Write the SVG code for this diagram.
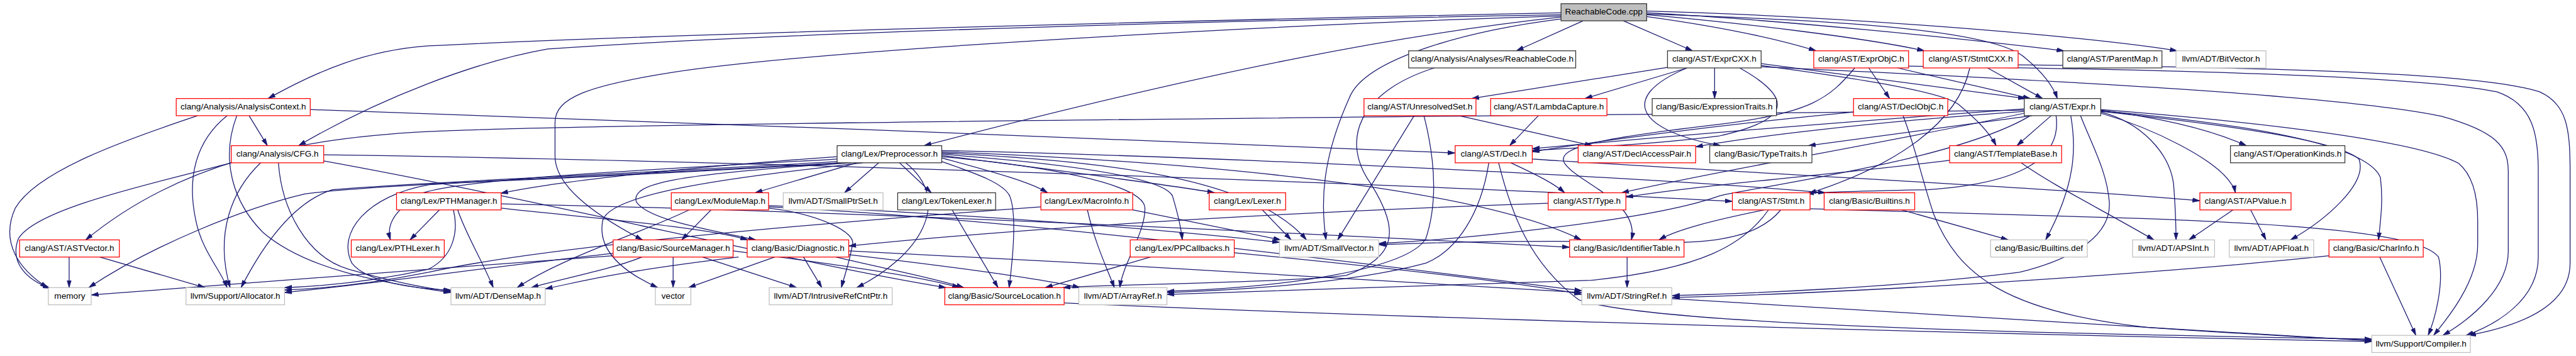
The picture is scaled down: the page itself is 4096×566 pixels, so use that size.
<svg xmlns="http://www.w3.org/2000/svg" width="4096" height="566" viewBox="0 0 4096 566">
<style>
rect.nb{fill:#fff;stroke-width:1.3}
.r rect{stroke:#ff0000}
.b rect{stroke:#333}
.g rect{stroke:#bfbfbf}
text{font-family:"Liberation Sans",Arial,sans-serif;font-size:14px;fill:#000;text-anchor:middle}
#edges path{fill:none;stroke:#191970;stroke-width:1.3;marker-end:url(#a)}
</style>
<defs>
<marker id="a" viewBox="0 0 12 8" refX="12" refY="4" markerWidth="12" markerHeight="8" markerUnits="userSpaceOnUse" orient="auto"><path d="M0,0.5 L12,4 L0,7.5 z" fill="#191970" stroke="#191970" stroke-width="0.8"/></marker>
</defs>
<rect width="4096" height="566" fill="#fff"/>
<g transform="scale(0.973)">
<g id="edges">
<path d="M2587,34 L2478,83"/>
<path d="M2653,34 L2766,83"/>
<path d="M2691,27 C2800,42 2900,62 2968,83"/>
<path d="M2691,24 C2850,38 3050,62 3145,83"/>
<path d="M2691,21 C2900,32 3200,62 3373,83"/>
<path d="M2691,18 C3000,26 3400,58 3558,83"/>
<path d="M2691,23 C3000,33 3260,48 3310,95 C3340,120 3355,140 3362,161"/>
<path d="M2551,21 C2000,32 1100,55 700,75 C600,82 520,115 438,161"/>
<path d="M2551,24 C2000,34 1300,52 895,80 C780,100 620,160 488,238"/>
<path d="M2551,28 C2300,55 2000,110 1510,238"/>
<path d="M2551,26 C2100,40 1350,80 1100,118 C960,140 907,160 907,200 L907,255 C907,300 960,345 1050,392"/>
<path d="M2551,31 C2400,50 2230,95 2205,160 C2160,260 2158,330 2167,392"/>
<path d="M2344,111 C2220,150 2190,230 2240,300 C2290,380 2280,420 2200,450 C2100,462 1800,465 1737,470"/>
<path d="M2725,110 L2405,161"/>
<path d="M2757,111 L2590,161"/>
<path d="M2802,111 L2802,161"/>
<path d="M2757,111 C2640,160 2680,215 2812,238"/>
<path d="M2843,111 C2930,160 2930,195 2810,222 C2700,236 2600,240 2504,246"/>
<path d="M2878,104 L3310,161"/>
<path d="M2878,107 C3050,130 3170,150 3200,170 C3230,195 3250,215 3262,238"/>
<path d="M2878,109 C3200,125 3800,150 3990,190 C4080,215 4099,240 4099,280 L4099,410 C4099,470 4040,520 3992,548"/>
<path d="M3054,111 L3088,161"/>
<path d="M3101,111 L3318,161"/>
<path d="M3031,111 C2990,160 2960,185 2810,203 C2620,225 2540,240 2557,267 C2580,300 2680,330 2666,392"/>
<path d="M3119,108 C3500,113 3950,123 4080,150 C4140,170 4148,220 4148,280 L4148,420 C4148,490 4080,530 4030,548"/>
<path d="M3248,111 L3338,161"/>
<path d="M3219,111 C3200,200 3100,270 2956,316"/>
<path d="M3298,106 C3700,110 4050,118 4150,150 C4195,170 4200,210 4200,280 L4200,430 C4200,500 4120,532 4034,548"/>
<path d="M407,189 L437,238"/>
<path d="M507,179 C1000,195 1900,230 2378,250"/>
<path d="M323,189 C200,230 60,280 25,340 C0,395 30,440 78,470"/>
<path d="M371,189 C320,230 305,290 320,360 C330,410 360,440 371,470"/>
<path d="M387,189 C360,260 380,330 430,380 C500,440 620,462 737,478"/>
<path d="M529,253 C1200,262 2300,300 2831,329"/>
<path d="M529,263 C900,330 1300,430 1546,470"/>
<path d="M378,266 C250,300 60,340 30,390 C15,430 45,458 82,471"/>
<path d="M426,266 C380,310 350,380 376,470"/>
<path d="M455,266 C460,340 500,420 570,440 C640,460 690,470 737,476"/>
<path d="M1368,256 C1100,275 900,298 818,316"/>
<path d="M1368,260 C1000,280 720,295 680,320 C640,350 632,370 638,392"/>
<path d="M1370,264 C1000,285 650,300 543,310 C480,330 430,400 394,470"/>
<path d="M1372,266 C1000,288 600,302 498,317 C400,340 250,400 145,470"/>
<path d="M1380,266 C1000,290 750,297 700,302 C600,320 550,380 575,430 C600,462 680,472 737,474"/>
<path d="M1436,266 L1380,315"/>
<path d="M1470,266 L1522,315"/>
<path d="M1410,266 C1250,285 1000,310 985,360 C975,410 1020,445 1075,470"/>
<path d="M1400,266 L1234,315"/>
<path d="M1390,266 C1100,285 1030,300 1040,330 C1060,360 1160,375 1235,392"/>
<path d="M1480,266 C1560,330 1500,420 1400,470"/>
<path d="M1539,258 C1600,275 1680,295 1712,315"/>
<path d="M1539,264 C1600,285 1640,300 1650,320 C1660,345 1658,400 1649,470"/>
<path d="M1539,254 C1700,275 1900,300 1985,315"/>
<path d="M1539,256 C1700,270 1870,300 1871,340 C1872,380 1835,430 1830,470"/>
<path d="M1539,252 C1750,268 1900,290 1916,320 C1925,350 1930,370 1932,392"/>
<path d="M1539,250 C1800,262 2050,290 2135,392"/>
<path d="M1539,248 C1900,262 2400,300 2584,392"/>
<path d="M1539,246 C2000,256 2700,290 2983,315"/>
<path d="M718,343 L670,392"/>
<path d="M748,343 C760,380 790,430 806,470"/>
<path d="M741,343 C750,380 740,420 700,440 C600,462 520,468 465,470"/>
<path d="M819,340 C950,355 1150,370 1222,392"/>
<path d="M819,333 C1400,345 2200,385 2565,404"/>
<path d="M1162,343 L1114,392"/>
<path d="M1126,343 C1050,380 920,420 845,470"/>
<path d="M1256,340 C1340,350 1400,380 1393,400 C1388,430 1380,450 1375,470"/>
<path d="M1256,338 C1700,360 2300,440 2585,475"/>
<path d="M1256,336 C1600,350 1900,375 2091,396"/>
<path d="M1556,343 L1631,470"/>
<path d="M1777,343 C1790,400 1810,440 1821,470"/>
<path d="M1851,343 L2093,392"/>
<path d="M1701,338 C1400,360 900,400 700,445 C600,465 520,472 465,474"/>
<path d="M2063,343 L2110,392"/>
<path d="M2530,332 C2000,350 1600,380 1387,402"/>
<path d="M2883,343 C2800,360 2740,375 2711,392"/>
<path d="M2910,343 C2880,380 2820,400 2700,396 C2500,392 2350,396 2253,400"/>
<path d="M2890,343 C2850,400 2780,440 2600,458 C2300,470 2000,478 1907,481"/>
<path d="M2958,341 C3300,350 3450,357 3500,357 C3800,368 3960,385 3985,420 C3995,460 3980,520 3968,548"/>
<path d="M3108,343 L3282,392"/>
<path d="M3649,343 L3577,392"/>
<path d="M3678,343 L3703,392"/>
<path d="M2311,189 L2186,392"/>
<path d="M2327,189 C2345,260 2350,330 2330,390 C2300,440 2100,470 1907,476"/>
<path d="M2384,189 L2602,238"/>
<path d="M2514,189 L2467,238"/>
<path d="M3029,183 C2800,205 2600,232 2504,248"/>
<path d="M3110,189 C3130,240 3140,290 3160,350 C3200,450 3280,510 3510,535 C3700,548 3800,553 3876,556"/>
<path d="M2469,266 C2510,285 2540,300 2557,315"/>
<path d="M2433,266 C2420,350 2380,410 2330,430 C2200,465 2000,475 1907,478"/>
<path d="M2449,266 C2470,350 2500,430 2580,490 C2700,530 3300,545 3876,554"/>
<path d="M2504,260 C2900,285 3400,310 3595,328"/>
<path d="M3308,180 C2500,190 1000,200 700,215 C500,225 300,260 140,392"/>
<path d="M3308,178 C3000,200 2700,225 2504,243"/>
<path d="M3308,182 C3050,200 2850,225 2771,240"/>
<path d="M3321,189 L2955,238"/>
<path d="M3352,189 L3296,238"/>
<path d="M3433,180 C3550,195 3620,215 3671,238"/>
<path d="M3433,183 C3500,200 3545,250 3552,300 C3555,340 3556,370 3556,392"/>
<path d="M3433,185 C3520,210 3620,260 3646,300 C3650,305 3652,310 3653,315"/>
<path d="M3433,182 C3650,205 3820,230 3855,260 C3870,300 3800,360 3743,392"/>
<path d="M3433,181 C3700,205 3870,240 3890,290 C3895,330 3890,360 3887,392"/>
<path d="M3433,179 C3700,200 3950,230 4018,267 C4045,290 4049,330 4049,360 L4049,400 C4049,460 4000,520 3977,548"/>
<path d="M3400,189 C3420,240 3443,280 3447,330 C3450,380 3400,420 3300,445 C3100,470 2850,480 2733,483"/>
<path d="M3384,189 C3393,240 3393,300 3343,392"/>
<path d="M3360,189 C3370,260 3300,300 3150,310 C3050,312 3000,313 2952,316"/>
<path d="M3308,185 C3100,230 2800,280 2650,315"/>
<path d="M3318,189 C3200,260 2900,300 2810,320 C2700,360 2400,390 2253,398"/>
<path d="M3186,262 C3000,285 2800,300 2657,322"/>
<path d="M3303,266 C3350,300 3430,340 3520,392"/>
<path d="M2659,420 L2659,470"/>
<path d="M3889,420 L3948,548"/>
<path d="M3806,418 C3500,450 3000,480 2733,486"/>
<path d="M1739,495 C2300,520 3200,545 3876,558"/>
<path d="M2732,488 L3876,557"/>
<path d="M1100,420 L1100,470"/>
<path d="M1049,420 C1000,440 920,455 868,470"/>
<path d="M1148,420 L1302,470"/>
<path d="M1198,410 C1350,430 1500,450 1568,470"/>
<path d="M1002,414 C850,430 600,465 465,478"/>
<path d="M1002,418 C700,440 300,468 149,482"/>
<path d="M1266,420 L1125,470"/>
<path d="M1313,420 L1343,470"/>
<path d="M1207,420 C1000,445 950,460 891,472"/>
<path d="M1366,420 C1450,440 1530,455 1575,470"/>
<path d="M1387,416 C1550,435 1700,455 1765,470"/>
<path d="M1387,410 C1800,430 2300,460 2585,478"/>
<path d="M1880,420 L1708,470"/>
<path d="M2017,413 C2300,440 2500,465 2585,481"/>
<path d="M113,420 L113,470"/>
<path d="M163,420 L335,470"/>
</g>
<g id="n0" class="b"><rect class="nb" x="2551" y="6" width="140" height="28" style="fill:#bfbfbf"/><text x="2621" y="24">ReachableCode.cpp</text></g>
<g id="n1" class="b"><rect class="nb" x="2302" y="83" width="273" height="28"/><text x="2438.5" y="101">clang/Analysis/Analyses/ReachableCode.h</text></g>
<g id="n2" class="b"><rect class="nb" x="2725" y="83" width="153" height="28"/><text x="2801.5" y="101">clang/AST/ExprCXX.h</text></g>
<g id="n3" class="r"><rect class="nb" x="2964" y="83" width="155" height="28"/><text x="3041.5" y="101">clang/AST/ExprObjC.h</text></g>
<g id="n4" class="r"><rect class="nb" x="3143" y="83" width="155" height="28"/><text x="3220.5" y="101">clang/AST/StmtCXX.h</text></g>
<g id="n5" class="b"><rect class="nb" x="3371" y="83" width="162" height="28"/><text x="3452" y="101">clang/AST/ParentMap.h</text></g>
<g id="n6" class="g"><rect class="nb" x="3556" y="83" width="147" height="28"/><text x="3629.5" y="101">llvm/ADT/BitVector.h</text></g>
<g id="n7" class="r"><rect class="nb" x="288" y="161" width="219" height="28"/><text x="397.5" y="179">clang/Analysis/AnalysisContext.h</text></g>
<g id="n8" class="r"><rect class="nb" x="2229" y="161" width="183" height="28"/><text x="2320.5" y="179">clang/AST/UnresolvedSet.h</text></g>
<g id="n9" class="r"><rect class="nb" x="2436" y="161" width="190" height="28"/><text x="2531" y="179">clang/AST/LambdaCapture.h</text></g>
<g id="n10" class="b"><rect class="nb" x="2700" y="161" width="203" height="28"/><text x="2801.5" y="179">clang/Basic/ExpressionTraits.h</text></g>
<g id="n11" class="r"><rect class="nb" x="3029" y="161" width="154" height="28"/><text x="3106" y="179">clang/AST/DeclObjC.h</text></g>
<g id="n12" class="b"><rect class="nb" x="3308" y="161" width="125" height="28"/><text x="3370.5" y="179">clang/AST/Expr.h</text></g>
<g id="n13" class="r"><rect class="nb" x="378" y="238" width="151" height="28"/><text x="453.5" y="256">clang/Analysis/CFG.h</text></g>
<g id="n14" class="b"><rect class="nb" x="1368" y="238" width="171" height="28"/><text x="1453.5" y="256">clang/Lex/Preprocessor.h</text></g>
<g id="n15" class="r"><rect class="nb" x="2378" y="238" width="126" height="28"/><text x="2441" y="256">clang/AST/Decl.h</text></g>
<g id="n16" class="r"><rect class="nb" x="2579" y="238" width="192" height="28"/><text x="2675" y="256">clang/AST/DeclAccessPair.h</text></g>
<g id="n17" class="b"><rect class="nb" x="2794" y="238" width="167" height="28"/><text x="2877.5" y="256">clang/Basic/TypeTraits.h</text></g>
<g id="n18" class="r"><rect class="nb" x="3186" y="238" width="183" height="28"/><text x="3277.5" y="256">clang/AST/TemplateBase.h</text></g>
<g id="n19" class="b"><rect class="nb" x="3645" y="238" width="187" height="28"/><text x="3738.5" y="256">clang/AST/OperationKinds.h</text></g>
<g id="n20" class="r"><rect class="nb" x="648" y="315" width="171" height="28"/><text x="733.5" y="333">clang/Lex/PTHManager.h</text></g>
<g id="n21" class="r"><rect class="nb" x="1097" y="315" width="159" height="28"/><text x="1176.5" y="333">clang/Lex/ModuleMap.h</text></g>
<g id="n22" class="g"><rect class="nb" x="1280" y="315" width="163" height="28"/><text x="1361.5" y="333">llvm/ADT/SmallPtrSet.h</text></g>
<g id="n23" class="b"><rect class="nb" x="1467" y="315" width="160" height="28"/><text x="1547" y="333">clang/Lex/TokenLexer.h</text></g>
<g id="n24" class="r"><rect class="nb" x="1701" y="315" width="150" height="28"/><text x="1776" y="333">clang/Lex/MacroInfo.h</text></g>
<g id="n25" class="r"><rect class="nb" x="1976" y="315" width="125" height="28"/><text x="2038.5" y="333">clang/Lex/Lexer.h</text></g>
<g id="n26" class="r"><rect class="nb" x="2530" y="315" width="127" height="28"/><text x="2593.5" y="333">clang/AST/Type.h</text></g>
<g id="n27" class="r"><rect class="nb" x="2831" y="315" width="127" height="28"/><text x="2894.5" y="333">clang/AST/Stmt.h</text></g>
<g id="n28" class="r"><rect class="nb" x="2981" y="315" width="148" height="28"/><text x="3055" y="333">clang/Basic/Builtins.h</text></g>
<g id="n29" class="r"><rect class="nb" x="3595" y="315" width="149" height="28"/><text x="3669.5" y="333">clang/AST/APValue.h</text></g>
<g id="n30" class="r"><rect class="nb" x="32" y="392" width="163" height="28"/><text x="113.5" y="410">clang/AST/ASTVector.h</text></g>
<g id="n31" class="r"><rect class="nb" x="574" y="392" width="152" height="28"/><text x="650" y="410">clang/Lex/PTHLexer.h</text></g>
<g id="n32" class="r"><rect class="nb" x="1002" y="392" width="196" height="28"/><text x="1100" y="410">clang/Basic/SourceManager.h</text></g>
<g id="n33" class="r"><rect class="nb" x="1221" y="392" width="166" height="28"/><text x="1304" y="410">clang/Basic/Diagnostic.h</text></g>
<g id="n34" class="r"><rect class="nb" x="1847" y="392" width="170" height="28"/><text x="1932" y="410">clang/Lex/PPCallbacks.h</text></g>
<g id="n35" class="g"><rect class="nb" x="2091" y="392" width="162" height="28"/><text x="2172" y="410">llvm/ADT/SmallVector.h</text></g>
<g id="n36" class="r"><rect class="nb" x="2565" y="392" width="187" height="28"/><text x="2658.5" y="410">clang/Basic/IdentifierTable.h</text></g>
<g id="n37" class="g"><rect class="nb" x="3253" y="392" width="158" height="28"/><text x="3332" y="410">clang/Basic/Builtins.def</text></g>
<g id="n38" class="g"><rect class="nb" x="3485" y="392" width="134" height="28"/><text x="3552" y="410">llvm/ADT/APSInt.h</text></g>
<g id="n39" class="g"><rect class="nb" x="3643" y="392" width="138" height="28"/><text x="3712" y="410">llvm/ADT/APFloat.h</text></g>
<g id="n40" class="r"><rect class="nb" x="3806" y="392" width="154" height="28"/><text x="3883" y="410">clang/Basic/CharInfo.h</text></g>
<g id="n41" class="g"><rect class="nb" x="79" y="470" width="70" height="28"/><text x="114" y="488">memory</text></g>
<g id="n42" class="g"><rect class="nb" x="304" y="470" width="161" height="28"/><text x="384.5" y="488">llvm/Support/Allocator.h</text></g>
<g id="n43" class="g"><rect class="nb" x="737" y="470" width="154" height="28"/><text x="814" y="488">llvm/ADT/DenseMap.h</text></g>
<g id="n44" class="g"><rect class="nb" x="1071" y="470" width="58" height="28"/><text x="1100" y="488">vector</text></g>
<g id="n45" class="g"><rect class="nb" x="1257" y="470" width="201" height="28"/><text x="1357.5" y="488">llvm/ADT/IntrusiveRefCntPtr.h</text></g>
<g id="n46" class="r"><rect class="nb" x="1544" y="470" width="195" height="28"/><text x="1641.5" y="488">clang/Basic/SourceLocation.h</text></g>
<g id="n47" class="g"><rect class="nb" x="1763" y="470" width="144" height="28"/><text x="1835" y="488">llvm/ADT/ArrayRef.h</text></g>
<g id="n48" class="g"><rect class="nb" x="2585" y="470" width="147" height="28"/><text x="2658.5" y="488">llvm/ADT/StringRef.h</text></g>
<g id="n49" class="g"><rect class="nb" x="3876" y="548" width="161" height="28"/><text x="3956.5" y="566">llvm/Support/Compiler.h</text></g>
</g>
</svg>
